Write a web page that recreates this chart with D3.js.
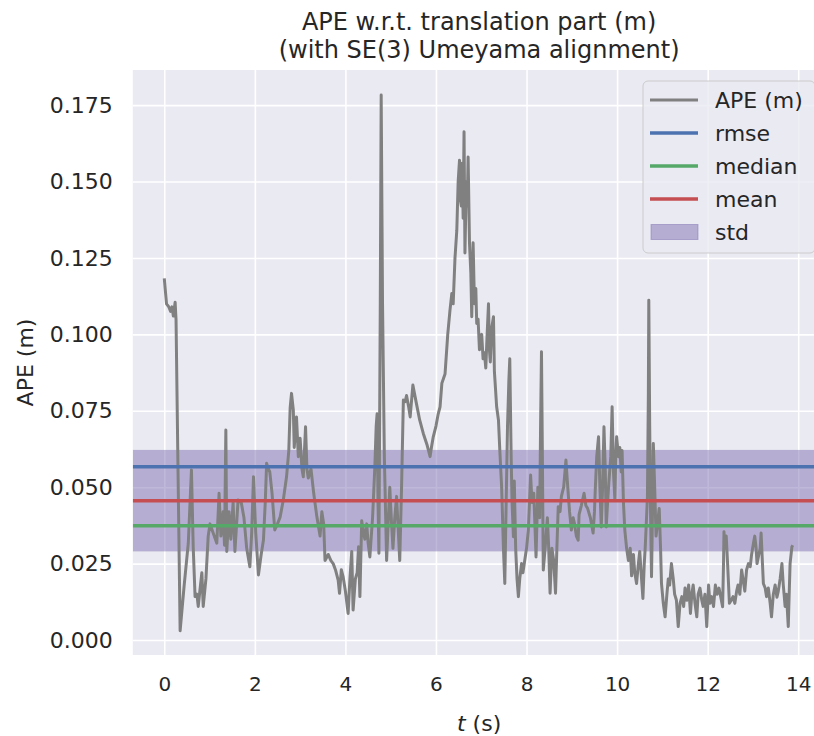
<!DOCTYPE html>
<html>
<head>
<meta charset="utf-8">
<script src="https://cdn.jsdelivr.net/npm/d3@7"></script>
<style>
  html, body { margin: 0; padding: 0; background: #ffffff; }
  svg { display: block; }
  text { font-family: "DejaVu Sans", sans-serif; fill: #262626; }
</style>
</head>
<body>
<svg id="chart" width="814" height="736"></svg>
<script>
// ---------- data ----------
const titleLines = ["APE w.r.t. translation part (m)", "(with SE(3) Umeyama alignment)"];
const xLabel = "t";
const yLabel = "APE (m)";
const xTicks = [0, 2, 4, 6, 8, 10, 12, 14];
const yTicks = [0.000, 0.025, 0.050, 0.075, 0.100, 0.125, 0.150, 0.175];
const legendNames = ["APE (m)", "rmse", "median", "mean", "std"];

const times = [
  0.00,0.05,0.10,0.14,0.17,0.20,0.24,0.26,0.35,0.44,0.53,0.60,0.64,0.68,0.72,0.75,0.80,0.83,0.86,0.92,
  0.97,1.01,1.08,1.16,1.21,1.25,1.30,1.33,1.36,1.38,1.43,1.47,1.52,1.56,1.63,1.70,1.76,1.82,1.89,1.93,
  1.97,2.02,2.08,2.14,2.19,2.23,2.26,2.30,2.33,2.38,2.44,2.50,2.56,2.63,2.70,2.75,2.78,2.81,2.85,2.87,
  2.92,2.96,2.98,3.00,3.04,3.07,3.12,3.15,3.18,3.24,3.30,3.37,3.44,3.48,3.52,3.55,3.62,3.68,3.73,3.78,
  3.84,3.87,3.91,3.95,4.00,4.06,4.10,4.14,4.17,4.22,4.26,4.29,4.32,4.36,4.40,4.43,4.47,4.50,4.54,4.60,
  4.65,4.68,4.70,4.72,4.74,4.77,4.79,4.82,4.86,4.91,4.95,4.98,5.02,5.05,5.09,5.13,5.17,5.20,5.24,5.28,
  5.32,5.35,5.40,5.43,5.49,5.56,5.64,5.72,5.80,5.87,5.90,5.94,6.00,6.05,6.09,6.13,6.20,6.26,6.31,6.35,
  6.38,6.42,6.46,6.49,6.52,6.54,6.56,6.58,6.60,6.62,6.64,6.67,6.69,6.71,6.74,6.77,6.79,6.82,6.85,6.88,
  6.90,6.93,6.96,7.01,7.04,7.07,7.10,7.13,7.16,7.18,7.20,7.23,7.27,7.29,7.34,7.38,7.41,7.45,7.49,7.52,
  7.55,7.58,7.61,7.63,7.66,7.68,7.71,7.73,7.76,7.79,7.82,7.85,7.89,7.92,7.96,8.00,8.04,8.09,8.12,8.16,
  8.21,8.25,8.29,8.31,8.33,8.35,8.37,8.41,8.46,8.49,8.52,8.56,8.60,8.64,8.67,8.70,8.74,8.77,8.82,8.87,
  8.91,8.95,8.99,9.03,9.06,9.10,9.14,9.16,9.21,9.27,9.31,9.35,9.41,9.47,9.50,9.52,9.55,9.59,9.62,9.65,
  9.68,9.71,9.74,9.76,9.79,9.82,9.86,9.89,9.92,9.95,9.97,9.99,10.03,10.06,10.09,10.11,10.14,10.17,10.21,10.25,
  10.29,10.32,10.36,10.39,10.43,10.47,10.50,10.54,10.57,10.60,10.62,10.65,10.67,10.69,10.70,10.72,10.74,10.76,10.78,10.80,
  10.83,10.86,10.89,10.93,10.96,10.98,11.02,11.06,11.10,11.13,11.16,11.20,11.24,11.27,11.31,11.35,11.39,11.43,11.47,11.50,
  11.54,11.58,11.62,11.65,11.68,11.72,11.76,11.79,11.83,11.87,11.90,11.94,11.98,12.02,12.05,12.09,12.13,12.17,12.21,12.25,
  12.29,12.33,12.35,12.36,12.38,12.41,12.44,12.48,12.52,12.56,12.60,12.64,12.67,12.71,12.75,12.78,12.82,12.86,12.90,12.94,
  12.97,13.01,13.04,13.07,13.09,13.13,13.16,13.18,13.21,13.23,13.27,13.30,13.34,13.38,13.41,13.45,13.49,13.53,13.56,13.60,
  13.64,13.67,13.71,13.74,13.78,13.80,13.82,13.86,13.88
];
const apeValues = [
  0.1183,0.1100,0.1090,0.1075,0.1090,0.1060,0.1105,0.1047,0.0030,0.0180,0.0316,0.0556,0.0300,0.0142,0.0150,0.0110,0.0180,0.0220,0.0110,0.0200,
  0.0340,0.0380,0.0350,0.0317,0.0480,0.0340,0.0420,0.0310,0.0687,0.0290,0.0420,0.0330,0.0450,0.0290,0.0458,0.0450,0.0400,0.0300,0.0240,0.0350,
  0.0534,0.0350,0.0213,0.0280,0.0327,0.0450,0.0578,0.0560,0.0550,0.0480,0.0360,0.0380,0.0403,0.0460,0.0534,0.0620,0.0760,0.0807,0.0752,0.0630,
  0.0730,0.0600,0.0620,0.0660,0.0560,0.0534,0.0698,0.0560,0.0530,0.0560,0.0480,0.0403,0.0340,0.0420,0.0380,0.0260,0.0280,0.0260,0.0250,0.0230,
  0.0196,0.0153,0.0230,0.0207,0.0160,0.0087,0.0200,0.0290,0.0098,0.0200,0.0220,0.0305,0.0142,0.0390,0.0350,0.0330,0.0380,0.0320,0.0272,0.0400,
  0.0567,0.0700,0.0740,0.0450,0.0284,0.1100,0.1783,0.1100,0.0600,0.0260,0.0400,0.0500,0.0380,0.0300,0.0400,0.0470,0.0350,0.0260,0.0500,0.0785,
  0.0780,0.0800,0.0760,0.0730,0.0834,0.0780,0.0720,0.0676,0.0640,0.0600,0.0630,0.0665,0.0700,0.0740,0.0763,0.0840,0.0870,0.1000,0.1080,0.1134,
  0.1100,0.1250,0.1340,0.1500,0.1570,0.1440,0.1420,0.1560,0.1380,0.1663,0.1266,0.1500,0.1420,0.1580,0.1300,0.1200,0.1058,0.1300,0.1100,0.1150,
  0.1036,0.1050,0.0950,0.1000,0.0920,0.0940,0.0890,0.1000,0.1100,0.0950,0.0910,0.1020,0.1058,0.0880,0.0763,0.0720,0.0620,0.0500,0.0300,0.0185,
  0.0450,0.0700,0.0850,0.0920,0.0600,0.0450,0.0338,0.0520,0.0300,0.0200,0.0142,0.0200,0.0250,0.0220,0.0260,0.0300,0.0360,0.0540,0.0450,0.0480,
  0.0272,0.0500,0.0400,0.0700,0.0943,0.0600,0.0229,0.0300,0.0400,0.0300,0.0153,0.0300,0.0260,0.0153,0.0300,0.0436,0.0420,0.0470,0.0500,0.0589,
  0.0500,0.0420,0.0360,0.0400,0.0380,0.0340,0.0327,0.0410,0.0440,0.0480,0.0440,0.0430,0.0400,0.0350,0.0420,0.0500,0.0600,0.0665,0.0500,0.0370,
  0.0500,0.0698,0.0550,0.0370,0.0450,0.0520,0.0600,0.0763,0.0550,0.0460,0.0600,0.0665,0.0600,0.0630,0.0550,0.0620,0.0450,0.0360,0.0300,0.0260,
  0.0300,0.0210,0.0280,0.0220,0.0185,0.0250,0.0290,0.0200,0.0136,0.0250,0.0300,0.0400,0.0470,0.0800,0.1112,0.0700,0.0400,0.0207,0.0400,0.0643,
  0.0500,0.0340,0.0380,0.0430,0.0300,0.0185,0.0120,0.0076,0.0150,0.0200,0.0180,0.0250,0.0200,0.0150,0.0130,0.0044,0.0120,0.0142,0.0110,0.0170,
  0.0130,0.0180,0.0087,0.0150,0.0180,0.0120,0.0076,0.0150,0.0170,0.0130,0.0110,0.0150,0.0044,0.0180,0.0120,0.0142,0.0110,0.0180,0.0150,0.0170,
  0.0140,0.0109,0.0250,0.0354,0.0300,0.0340,0.0250,0.0120,0.0130,0.0142,0.0120,0.0160,0.0180,0.0150,0.0229,0.0200,0.0160,0.0230,0.0250,0.0240,
  0.0280,0.0316,0.0340,0.0300,0.0250,0.0280,0.0300,0.0350,0.0250,0.0185,0.0170,0.0142,0.0170,0.0120,0.0076,0.0150,0.0180,0.0140,0.0160,0.0200,
  0.0250,0.0180,0.0110,0.0150,0.0044,0.0150,0.0250,0.0305,0.0310
];

// summary statistics
const statRmse = 0.0567;
const statMedian = 0.0374;
const statMean = 0.0456;
const statStd = 0.0166;

// ---------- layout ----------
const svg = d3.select("#chart");
const plot = { left: 132.8, right: 825.4, top: 70, bottom: 655 };

const x = d3.scaleLinear().domain([-0.695, 14.6]).range([plot.left, plot.right]);
const y = d3.scaleLinear().domain([-0.0049, 0.1865]).range([plot.bottom, plot.top]);

const colors = {
  bg: "#eaeaf2", grid: "#ffffff", ape: "#808080",
  rmse: "#4c72b0", median: "#55a868", mean: "#c44e52", std: "#8172b2"
};

svg.append("defs").append("clipPath").attr("id", "clip")
  .append("rect")
  .attr("x", plot.left).attr("y", plot.top)
  .attr("width", plot.right - plot.left).attr("height", plot.bottom - plot.top);

// background
svg.append("rect")
  .attr("x", plot.left).attr("y", plot.top)
  .attr("width", plot.right - plot.left).attr("height", plot.bottom - plot.top)
  .attr("fill", colors.bg);

// grid via axes
const gx = svg.append("g")
  .attr("transform", `translate(0,${plot.bottom})`)
  .call(d3.axisBottom(x).tickValues(xTicks).tickSize(-(plot.bottom - plot.top)).tickFormat(d3.format("d")).tickPadding(14));
gx.select(".domain").remove();
gx.selectAll(".tick line").attr("stroke", colors.grid).attr("stroke-width", 1.6);
gx.selectAll(".tick text").attr("font-size", 20).attr("fill", "#262626")
  .attr("font-family", '"DejaVu Sans", sans-serif').attr("dy", "1.1em");

const gy = svg.append("g")
  .attr("transform", `translate(${plot.left},0)`)
  .call(d3.axisLeft(y).tickValues(yTicks).tickSize(-(plot.right - plot.left)).tickFormat(d3.format(".3f")).tickPadding(20));
gy.select(".domain").remove();
gy.selectAll(".tick line").attr("stroke", colors.grid).attr("stroke-width", 1.6);
gy.selectAll(".tick text").attr("font-size", 22).attr("fill", "#262626")
  .attr("font-family", '"DejaVu Sans", sans-serif');

const g = svg.append("g").attr("clip-path", "url(#clip)");

// std band
g.append("rect")
  .attr("x", plot.left).attr("width", plot.right - plot.left)
  .attr("y", y(statMean + statStd))
  .attr("height", y(statMean - statStd) - y(statMean + statStd))
  .attr("fill", colors.std).attr("fill-opacity", 0.5);

// APE line
const pts = times.map((t, i) => [t, apeValues[i]]);
g.append("path")
  .datum(pts)
  .attr("fill", "none")
  .attr("stroke", colors.ape)
  .attr("stroke-width", 3)
  .attr("stroke-linejoin", "round")
  .attr("d", d3.line().x(d => x(d[0])).y(d => y(d[1])));

// stat lines
[[statRmse, colors.rmse], [statMedian, colors.median], [statMean, colors.mean]].forEach(([v, c]) => {
  g.append("line")
    .attr("x1", plot.left).attr("x2", plot.right)
    .attr("y1", y(v)).attr("y2", y(v))
    .attr("stroke", c).attr("stroke-width", 3.5);
});

// title
const title = svg.append("text")
  .attr("text-anchor", "middle")
  .attr("font-size", 24);
title.append("tspan").attr("x", (plot.left + plot.right) / 2).attr("y", 30).text(titleLines[0]);
title.append("tspan").attr("x", (plot.left + plot.right) / 2).attr("y", 58).text(titleLines[1]);

// axis labels
const xl = svg.append("text")
  .attr("x", (plot.left + plot.right) / 2)
  .attr("y", 731)
  .attr("text-anchor", "middle")
  .attr("font-size", 22);
xl.append("tspan").attr("font-style", "italic").text(xLabel);
xl.append("tspan").text(" (s)");

svg.append("text")
  .attr("transform", `translate(33,${(plot.top + plot.bottom) / 2}) rotate(-90)`)
  .attr("text-anchor", "middle")
  .attr("font-size", 22)
  .text(yLabel);

// legend
const lg = svg.append("g");
lg.append("rect")
  .attr("x", 643).attr("y", 81).attr("width", 172).attr("height", 172)
  .attr("rx", 5).attr("ry", 5)
  .attr("fill", colors.bg).attr("fill-opacity", 0.8)
  .attr("stroke", "#cccccc").attr("stroke-width", 1);
const legendColors = [colors.ape, colors.rmse, colors.median, colors.mean, colors.std];
legendNames.forEach((name, i) => {
  const cy = 100 + i * 33;
  if (i < 4) {
    lg.append("line")
      .attr("x1", 650).attr("x2", 698).attr("y1", cy).attr("y2", cy)
      .attr("stroke", legendColors[i]).attr("stroke-width", i === 0 ? 3 : 3.5);
  } else {
    lg.append("rect")
      .attr("x", 651).attr("y", cy - 7.5).attr("width", 47).attr("height", 15)
      .attr("fill", colors.std).attr("fill-opacity", 0.5)
      .attr("stroke", colors.std).attr("stroke-opacity", 0.5);
  }
  lg.append("text")
    .attr("x", 715).attr("y", cy + 8)
    .attr("font-size", 22)
    .text(name);
});
</script>
</body>
</html>
